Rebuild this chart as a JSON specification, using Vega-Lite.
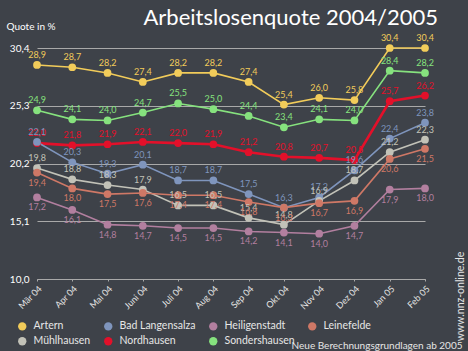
{
 "$schema": "https://vega.github.io/schema/vega-lite/v6.json",
 "width": 388, "height": 231,
 "autosize": {"type": "none"},
 "padding": {"left": 37, "top": 48, "right": 43, "bottom": 72},
 "background": "#3e4249",
 "title": {"text": "Arbeitslosenquote 2004/2005", "anchor": "end", "dx": 13, "dy": 28, "offset": 2, "baseline": "alphabetic", "fontSize": 22, "font": "Lato", "fontWeight": "normal", "color": "#ffffff", "frame": "group"},
 "config": {
   "view": {"stroke": null},
   "font": "Lato",
   "locale": {"number": {"decimal": ",", "thousands": ".", "grouping": [3], "currency": ["", " €"]}}
 },
 "data": {"values": [
  {"monat":"Mär 04","ort":"Artern","quote":28.9},{"monat":"Apr 04","ort":"Artern","quote":28.7},{"monat":"Mai 04","ort":"Artern","quote":28.2},{"monat":"Juni 04","ort":"Artern","quote":27.4},{"monat":"Juli 04","ort":"Artern","quote":28.2},{"monat":"Aug 04","ort":"Artern","quote":28.2},{"monat":"Sep 04","ort":"Artern","quote":27.4},{"monat":"Okt 04","ort":"Artern","quote":25.4},{"monat":"Nov 04","ort":"Artern","quote":26.0},{"monat":"Dez 04","ort":"Artern","quote":25.8},{"monat":"Jan 05","ort":"Artern","quote":30.4},{"monat":"Feb 05","ort":"Artern","quote":30.4},
  {"monat":"Mär 04","ort":"Sondershausen","quote":24.9},{"monat":"Apr 04","ort":"Sondershausen","quote":24.1},{"monat":"Mai 04","ort":"Sondershausen","quote":24.0},{"monat":"Juni 04","ort":"Sondershausen","quote":24.7},{"monat":"Juli 04","ort":"Sondershausen","quote":25.5},{"monat":"Aug 04","ort":"Sondershausen","quote":25.0},{"monat":"Sep 04","ort":"Sondershausen","quote":24.4},{"monat":"Okt 04","ort":"Sondershausen","quote":23.4},{"monat":"Nov 04","ort":"Sondershausen","quote":24.1},{"monat":"Dez 04","ort":"Sondershausen","quote":24.0},{"monat":"Jan 05","ort":"Sondershausen","quote":28.4},{"monat":"Feb 05","ort":"Sondershausen","quote":28.2},
  {"monat":"Mär 04","ort":"Nordhausen","quote":22.0},{"monat":"Apr 04","ort":"Nordhausen","quote":21.8},{"monat":"Mai 04","ort":"Nordhausen","quote":21.9},{"monat":"Juni 04","ort":"Nordhausen","quote":22.1},{"monat":"Juli 04","ort":"Nordhausen","quote":22.0},{"monat":"Aug 04","ort":"Nordhausen","quote":21.9},{"monat":"Sep 04","ort":"Nordhausen","quote":21.2},{"monat":"Okt 04","ort":"Nordhausen","quote":20.8},{"monat":"Nov 04","ort":"Nordhausen","quote":20.7},{"monat":"Dez 04","ort":"Nordhausen","quote":20.5},{"monat":"Jan 05","ort":"Nordhausen","quote":25.7},{"monat":"Feb 05","ort":"Nordhausen","quote":26.2},
  {"monat":"Mär 04","ort":"Bad Langensalza","quote":22.1},{"monat":"Apr 04","ort":"Bad Langensalza","quote":20.3},{"monat":"Mai 04","ort":"Bad Langensalza","quote":19.3},{"monat":"Juni 04","ort":"Bad Langensalza","quote":20.1},{"monat":"Juli 04","ort":"Bad Langensalza","quote":18.7},{"monat":"Aug 04","ort":"Bad Langensalza","quote":18.7},{"monat":"Sep 04","ort":"Bad Langensalza","quote":17.5},{"monat":"Okt 04","ort":"Bad Langensalza","quote":16.3},{"monat":"Nov 04","ort":"Bad Langensalza","quote":17.2},{"monat":"Dez 04","ort":"Bad Langensalza","quote":19.6},{"monat":"Jan 05","ort":"Bad Langensalza","quote":22.4},{"monat":"Feb 05","ort":"Bad Langensalza","quote":23.8},
  {"monat":"Mär 04","ort":"Mühlhausen","quote":19.8},{"monat":"Apr 04","ort":"Mühlhausen","quote":18.8},{"monat":"Mai 04","ort":"Mühlhausen","quote":18.3},{"monat":"Juni 04","ort":"Mühlhausen","quote":17.9},{"monat":"Juli 04","ort":"Mühlhausen","quote":16.5},{"monat":"Aug 04","ort":"Mühlhausen","quote":16.5},{"monat":"Sep 04","ort":"Mühlhausen","quote":15.4},{"monat":"Okt 04","ort":"Mühlhausen","quote":14.8},{"monat":"Nov 04","ort":"Mühlhausen","quote":16.9},{"monat":"Dez 04","ort":"Mühlhausen","quote":18.7},{"monat":"Jan 05","ort":"Mühlhausen","quote":21.2},{"monat":"Feb 05","ort":"Mühlhausen","quote":22.3},
  {"monat":"Mär 04","ort":"Leinefelde","quote":19.4},{"monat":"Apr 04","ort":"Leinefelde","quote":18.0},{"monat":"Mai 04","ort":"Leinefelde","quote":17.5},{"monat":"Juni 04","ort":"Leinefelde","quote":17.6},{"monat":"Juli 04","ort":"Leinefelde","quote":17.4},{"monat":"Aug 04","ort":"Leinefelde","quote":17.4},{"monat":"Sep 04","ort":"Leinefelde","quote":16.8},{"monat":"Okt 04","ort":"Leinefelde","quote":16.3},{"monat":"Nov 04","ort":"Leinefelde","quote":16.7},{"monat":"Dez 04","ort":"Leinefelde","quote":16.9},{"monat":"Jan 05","ort":"Leinefelde","quote":20.6},{"monat":"Feb 05","ort":"Leinefelde","quote":21.5},
  {"monat":"Mär 04","ort":"Heiligenstadt","quote":17.2},{"monat":"Apr 04","ort":"Heiligenstadt","quote":16.1},{"monat":"Mai 04","ort":"Heiligenstadt","quote":14.8},{"monat":"Juni 04","ort":"Heiligenstadt","quote":14.7},{"monat":"Juli 04","ort":"Heiligenstadt","quote":14.5},{"monat":"Aug 04","ort":"Heiligenstadt","quote":14.5},{"monat":"Sep 04","ort":"Heiligenstadt","quote":14.2},{"monat":"Okt 04","ort":"Heiligenstadt","quote":14.1},{"monat":"Nov 04","ort":"Heiligenstadt","quote":14.0},{"monat":"Dez 04","ort":"Heiligenstadt","quote":14.7},{"monat":"Jan 05","ort":"Heiligenstadt","quote":17.9},{"monat":"Feb 05","ort":"Heiligenstadt","quote":18.0}
 ]},
 "encoding": {
   "x": {"field": "monat", "type": "ordinal",
     "sort": ["Mär 04","Apr 04","Mai 04","Juni 04","Juli 04","Aug 04","Sep 04","Okt 04","Nov 04","Dez 04","Jan 05","Feb 05"],
     "scale": {"type": "point", "padding": 0},
     "axis": {"labelAngle": -45, "labelColor": "#e6e6e6", "labelFontSize": 9, "labelPadding": 3,
              "domain": true, "domainColor": "#a9a9a9", "domainWidth": 1.2, "ticks": true, "tickColor": "#a9a9a9", "tickSize": 2, "grid": false,
              "title": "Neue Berechnungsgrundlagen ab 2005", "titleX": 425, "titleY": 69, "titleAlign": "right", "titleBaseline": "alphabetic",
              "titleColor": "#e6e6e6", "titleFontSize": 10, "titleFontWeight": "normal"}},
   "color": {"field": "ort", "type": "nominal",
     "scale": {"domain": ["Artern","Bad Langensalza","Heiligenstadt","Leinefelde","Mühlhausen","Nordhausen","Sondershausen"],
               "range": ["#f2cc5a","#7f95bd","#b27f9f","#cf7866","#c2c2b8","#e3102a","#86e27e"]},
     "legend": {"orient": "none", "legendX": -20, "legendY": 273, "columns": 4, "direction": "horizontal", "title": null,
                "symbolType": "circle", "symbolSize": 70, "symbolOpacity": 1, "symbolStrokeWidth": 0,
                "labelColor": "#e6e6e6", "labelFontSize": 10.5, "columnPadding": 12, "rowPadding": 4, "labelOffset": 6}}
 },
 "layer": [
   {"mark": {"type": "line"},
    "encoding": {
      "y": {"field": "quote", "type": "quantitative",
        "scale": {"domain": [10, 30.4], "nice": false, "zero": false},
        "axis": {"orient": "left", "values": [10, 15.1, 20.2, 25.3, 30.4], "format": ".1f", "grid": true, "gridColor": "#a9a9a9", "gridWidth": 1.2,
              "domain": false, "ticks": false, "labelColor": "#ffffff", "labelFontSize": 10, "labelPadding": 8,
              "title": "Quote in %", "titleAngle": 0, "titleX": -31, "titleY": -19, "titleAlign": "left", "titleBaseline": "alphabetic",
              "titleColor": "#ffffff", "titleFontSize": 10, "titleFontWeight": "normal"}},
      "strokeWidth": {"condition": {"test": "datum.ort == 'Nordhausen'", "value": 2.6}, "value": 1.6}}},
   {"mark": {"type": "circle", "size": 60, "opacity": 1},
    "encoding": {"y": {"field": "quote", "type": "quantitative",
      "scale": {"domain": [10, 30.4], "nice": false, "zero": false},
      "axis": {"orient": "right", "labels": false, "ticks": false, "domain": false, "grid": false,
               "title": "www.nnz-online.de", "titleAngle": 270, "titleX": 35, "titleY": 248, "titleAlign": "center", "titleBaseline": "middle",
               "titleColor": "#e6e6e6", "titleFontSize": 10.5, "titleFontWeight": "normal"}}}},
   {"transform": [{"filter": "datum.ort != 'Leinefelde' && datum.ort != 'Heiligenstadt'"}],
    "mark": {"type": "text", "baseline": "bottom", "dy": -5, "fontSize": 9},
    "encoding": {
      "y": {"field": "quote", "type": "quantitative", "scale": {"domain": [10, 30.4], "nice": false, "zero": false}, "axis": null},
      "text": {"field": "quote", "type": "quantitative", "format": ".1f"}}},
   {"transform": [{"filter": "datum.ort == 'Leinefelde' || datum.ort == 'Heiligenstadt'"}],
    "mark": {"type": "text", "baseline": "top", "dy": 6, "fontSize": 9},
    "encoding": {
      "y": {"field": "quote", "type": "quantitative", "scale": {"domain": [10, 30.4], "nice": false, "zero": false}, "axis": null},
      "text": {"field": "quote", "type": "quantitative", "format": ".1f"}}}
 ],
 "resolve": {"axis": {"y": "independent"}}
}
